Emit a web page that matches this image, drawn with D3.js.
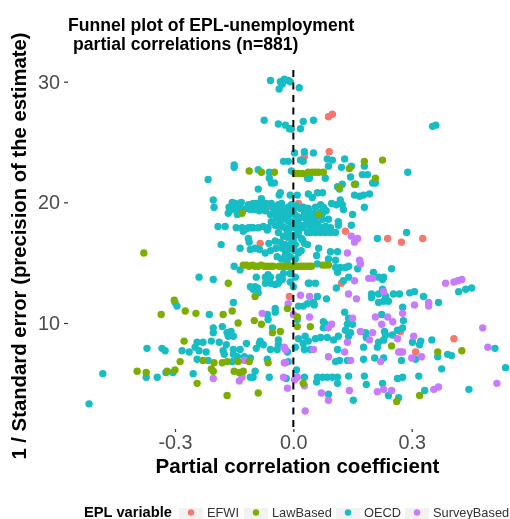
<!DOCTYPE html>
<html>
<head>
<meta charset="utf-8">
<script src="https://cdn.jsdelivr.net/npm/d3@7"></script>
<style>
  html, body { margin: 0; padding: 0; background: #fff; }
  svg { display: block; font-family: "Liberation Sans", Arial, sans-serif; filter: blur(0.45px); }
</style>
</head>
<body>
<svg class="chart"></svg>
<script>
const width = 510,
  height = 519;

const xTicks = [-0.3, 0, 0.3];
const yTicks = [10, 20, 30];
const groups = ["EFWI", "LawBased", "OECD", "SurveyBased"];
const colors = ["#F8766D", "#7CAE00", "#17BDC4", "#C77CFF"];

// [partial correlation, 1 / standard error]
const efwi = [[0.099,27.3],[0.089,27.1],[0.028,23.8],[0.091,24.2],[0.013,19.9],[0.132,17.6],[0.239,17.0],[0.328,17.0],[0.274,16.7],[0.122,13.3],[-0.010,12.2],[0.407,8.7],[0.310,7.6],[0.272,9.3],[0.229,8.6],[0.272,7.6],[-0.066,19.6],[-0.084,16.6],[-0.025,16.5]];

const oecd = [[-0.058,30.1],[-0.033,30.0],[-0.023,30.2],[-0.028,29.8],[-0.036,29.4],[-0.013,30.1],[-0.008,30.0],[0.015,29.5],[-0.074,26.8],[-0.038,26.5],[-0.020,26.4],[-0.010,26.1],[-0.005,26.1],[0.018,26.1],[0.025,26.7],[0.051,26.8],[0.353,26.3],[0.361,26.4],
[0.003,24.1],[0.028,24.2],[-0.025,23.4],[-0.013,23.4],[-0.150,23.1],[-0.150,22.9],[-0.089,22.7],[-0.061,22.5],[-0.005,22.6],[-0.216,21.9],[-0.061,22.0],[-0.056,21.6],[-0.048,21.6],[-0.089,21.1],[-0.033,20.8],[-0.036,20.6],[0.010,20.6],[-0.008,20.6],[-0.081,20.3],[-0.203,20.2],[-0.201,19.6],
[-0.155,20.0],[-0.163,19.6],[-0.165,19.1],[-0.142,19.0],[-0.135,19.6],[-0.114,19.8],[-0.102,19.9],[-0.091,19.6],[-0.079,19.6],[-0.071,19.3],[-0.053,19.6],[-0.038,19.8],[-0.028,19.5],[-0.013,19.6],[0,19.4],[0.018,19.5],[0.036,19.5],[-0.058,19.0],[-0.020,18.8],[-0.109,19.4],[-0.127,19.4],[-0.152,19.4],
[-0.147,19.9],[-0.132,20.0],[-0.119,19.5],[-0.107,19.7],[-0.094,19.9],[-0.081,19.8],[-0.069,19.9],[-0.056,19.9],[-0.043,19.5],[-0.030,19.9],[-0.018,19.4],[-0.005,19.8],[0.008,19.7],[-0.140,19.3],[-0.098,19.4],[-0.086,19.3],[-0.048,19.2],[-0.035,19.1],[-0.025,18.9],[-0.010,19.0],[0.003,19.0],[0.012,18.8],[-0.043,18.7],[-0.030,18.6],[-0.015,18.5],[0,18.4],[0.010,18.3],[-0.040,18.1],[-0.028,18.0],[-0.012,17.8],
[-0.191,18.0],[-0.173,18.0],[-0.145,17.9],[-0.130,17.9],[-0.127,17.6],[-0.120,17.8],[-0.114,17.9],[-0.108,17.9],[-0.102,17.9],[-0.089,17.9],[-0.076,18.0],[-0.064,17.9],[-0.046,18.1],[-0.056,18.4],[-0.033,18.4],[-0.020,17.9],[-0.008,18.4],[0.005,17.9],[0.018,18.1],[-0.038,17.5],[-0.015,17.6],[-0.008,17.3],[-0.114,17.0],[0.013,17.5],[0.036,17.5],[-0.025,17.2],[-0.066,17.7],
[0.051,24.1],[0.025,23.4],[0.018,23.5],[0.086,23.6],[0.099,23.5],[0.089,23.0],[0.122,22.9],[0.130,23.6],[0.147,23.0],[0.145,22.1],[0.180,23.0],[0.175,22.3],[0.188,22.3],[0.290,22.5],[0.036,22.0],[0.041,22.0],[0.081,22.0],[0.201,21.6],[0.208,21.6],[0.112,21.3],[0.124,21.5],[0.117,21.1],[0.158,21.5],[0.155,20.6],[0.168,20.5],[0.178,20.6],[0.193,20.7],[0.180,19.6],[0.150,19.0],[0.147,18.1],[0.061,20.8],[0.074,20.8],[0.038,20.7],[0.048,20.4],[0.119,20.2],[0.109,19.8],[0.124,19.8],[0.127,19.4],[0.097,19.9],[0.114,18.4],[0.114,18.1],[0.094,17.9],[0.069,19.8],[0.056,19.6],[0.076,19.6],[0.025,19.6],[0.038,19.5],[0.036,19.1],[0.051,19.1],[0.074,19.1],[0.025,18.8],[0.043,18.7],[0.051,18.3],[0.074,18.6],[0.089,18.6],[0.023,17.9],[0.043,17.5],[0.056,17.5],[0.069,17.5],[0.081,17.5],[0.094,17.5],[0.107,17.5],[0.076,17.9],[0.213,17.0],[0.287,17.5],
[0.028,19.2],[0.016,18.7],[0.033,18.6],[0.063,18.9],[0.055,18.6],[0.062,18.2],[0.040,18.1],[0.030,18.1],[0.048,17.9],[0.066,17.9],[0.082,18.0],[0.070,19.2],[0.083,19.3],
[-0.183,16.5],[-0.135,16.2],[-0.112,16.7],[-0.109,16.1],[-0.097,16.2],[-0.086,16.1],[-0.071,15.8],[-0.058,16.0],[-0.046,16.8],[-0.033,16.7],[-0.041,15.5],[-0.030,15.3],[-0.020,15.7],[-0.008,16.2],[0.005,16.5],[0.013,15.8],[0,16.9],[-0.015,17.1],[-0.020,16.5],[-0.008,15.5],[0.023,16.9],[0.036,16.5],[-0.150,14.7],[-0.135,14.4],[-0.239,13.8],[-0.203,13.6],[-0.094,13.8],[-0.064,14.0],[-0.071,13.8],[-0.058,13.8],[-0.025,14.1],[-0.036,13.8],[-0.071,13.3],[-0.058,13.3],[-0.046,13.2],[-0.038,13.3],[-0.028,13.6],[-0.008,14.1],[-0.008,13.4],[0.005,13.8],[-0.109,13.0],[-0.097,13.0],[-0.102,12.8],[-0.089,12.5],[-0.091,12.9],[0,13.0],[0.038,13.3],[-0.152,11.7],[-0.300,11.7],[-0.295,11.4],[-0.213,10.7],[-0.046,11.2],[-0.046,10.9],[-0.066,10.7],[-0.064,10.3],[0.013,11.4],[0.025,11.4],[0.010,10.3],
[-0.008,17.9],[0.005,17.3],[0.020,17.0],[0.028,16.6],[-0.005,16.6],[-0.028,16.2],[-0.015,16.0],[0.003,16.0],[0.020,16.0],[-0.044,16.2],[-0.016,15.1],[0.005,15.3],[-0.062,16.6],
[-0.053,9.6],[-0.203,9.6],[-0.203,9.2],[-0.180,9.7],[-0.168,9.2],[-0.158,9.3],[-0.152,8.9],[-0.165,8.9],[-0.371,7.9],[-0.333,7.9],[-0.325,7.7],[-0.282,7.7],[-0.264,7.6],[-0.244,8.4],[-0.229,8.4],[-0.208,8.5],[-0.249,8.0],[-0.239,7.7],[-0.221,7.6],[-0.244,7.0],[-0.216,6.9],[-0.188,8.4],[-0.170,8.2],[-0.178,7.7],[-0.175,7.4],[-0.152,7.8],[-0.135,7.8],[-0.152,7.4],[-0.142,7.2],[-0.124,7.2],[-0.109,7.1],[-0.155,6.8],[-0.119,8.3],[-0.084,8.5],[-0.086,8.3],[-0.094,7.9],[-0.076,8.2],[-0.058,7.8],[-0.041,7.8],[-0.038,8.6],[-0.038,8.2],[-0.015,7.6],[-0.066,7.0],[-0.254,5.8],[-0.323,5.9],[-0.305,5.9],[-0.345,5.5],[-0.373,5.5],[-0.483,5.8],[-0.518,3.3],[-0.109,5.5],[-0.102,5.5],[-0.097,6.0],[-0.061,5.5],[-0.018,5.4],[-0.013,6.8],
[0.064,16.2],[0.094,15.9],[0.112,15.9],[0.059,15.6],[0.089,15.3],[0.107,15.2],[0.061,14.9],[0.107,14.6],[0.119,14.6],[0.112,14.2],[0.132,14.6],[0.140,14.7],[0.163,14.5],[0.203,14.2],[0.249,14.5],[0.140,13.8],[0.127,13.5],[0.109,12.9],[0.216,13.8],[0.229,13.8],[0.226,13.6],[0.041,13.3],[0.056,13.3],[0.226,12.8],[0.198,12.4],[0.198,12.1],[0.216,12.4],[0.234,12.2],[0.216,11.7],[0.229,11.8],[0.241,11.8],[0.254,12.4],[0.269,12.4],[0.295,12.5],[0.307,12.6],[0.330,12.2],[0.368,11.7],[0.277,11.3],[0.419,12.6],[0.437,12.8],[0.452,12.9],[0.084,12.0],[0.061,12.2],[0.051,11.7],[0.036,11.6],[0.053,11.5],[0.130,10.9],[0.140,10.4],[0.224,10.7],[0.279,10.2],[0.277,9.6],[0.264,9.4],[0.076,10.1],[0.076,9.6],[0.081,9.9],[0.137,9.9],[0.150,9.9],[0.132,9.4],[0.145,9.2],[0.114,8.9],[0.140,8.9],[0.102,8.6],[0.086,8.8],[0.069,8.8],[0.056,8.7],[0.030,8.9],[0.013,8.7],[0.038,8.5],[0.025,8.3],[0.005,8.0],[0.028,7.8],[0.043,7.8],[0.112,7.8],[0.183,9.2],[0.185,8.8],[0.178,8.0],[0.213,8.0],[0.216,8.4],[0.231,9.3],[0.234,9.0],[0.251,9.0],[0.229,8.6],[0.302,8.4],[0.323,8.5],[0.320,8.2],[0.351,8.6],[0.366,7.2],[0.391,7.4],[0.401,7.3],[0.511,7.9],[0.538,6.3],[0.310,7.0],[0.274,6.9],[0.229,7.1],[0.206,7.1],[0.178,7.0],[0.107,6.8],[0.117,6.9],[0.137,6.9],[0.376,6.2],[0.318,5.6],[0.277,5.5],[0.264,5.4],[0.180,5.6],[0.185,4.9],[0.140,5.6],[0.226,5.0],[0.241,4.0],[0.267,3.8],[0.152,3.6],[0.089,4.1],[0.333,4.4],[0.445,4.5],[0.112,5.0],[0.112,5.5],[0.099,5.5],[0.086,5.5],[0.074,5.5],[0.061,5.5],[0.059,5.1],[0.008,6.1],[0.028,5.5]];

const surveyBased = [[0.147,17.2],[0.163,17.0],[0.155,16.7],[0.137,15.8],[0.168,15.2],[0.170,14.9],[0.191,13.7],[0.201,13.7],[0.155,13.5],[0.386,13.3],[0.407,13.4],[0.417,13.5],[0.427,13.6],[0.140,12.4],[0.160,12.0],[0.229,12.6],[0.307,11.5],[0.343,11.7],[0.343,11.4],[0.018,12.3],[0.041,12.2],[-0.013,11.6],[0,10.7],[0.041,10.5],[0.150,10.4],[0.208,10.5],[0.239,10.5],[0.277,10.8],[0.252,10.1],[0.224,9.9],[0.097,9.9],[0.089,9.6],[0.170,9.3],[0.201,9.2],[0.193,8.6],[0.137,8.4],[0.264,8.7],[0.305,8.9],[0.480,9.6],[0.493,8.0],[0.267,7.6],[0.277,7.6],[0.051,7.8],[0.130,7.6],[0.089,7.2],[0.145,6.9],[0.221,6.8],[0.300,7.1],[0.325,7.2],[-0.020,7.8],[-0.020,6.7],[0.010,5.5],[0.003,5.3],[0.028,4.8],[-0.015,4.6],[0.071,4.2],[0.142,4.4],[0.089,3.6],[0.213,4.3],[0.229,4.5],[0.249,4.4],[0.356,4.5],[0.368,4.7],[0.516,5.0],[0.030,2.7],[-0.079,10.8],[-0.124,6.9],[-0.023,8.0],[-0.023,6.7],[-0.203,5.4],[-0.130,5.5],[-0.137,5.2],[-0.025,5.5]];

const lawBased = [[-0.112,22.6],[-0.081,22.5],[-0.048,22.5],[-0.130,19.1],[0.005,22.4],[0.013,22.4],[0.023,22.4],[0.038,22.5],[0.048,22.5],[0.056,22.5],[0.064,22.5],[0.076,22.5],[0.180,23.4],[0.226,23.5],[0.142,22.8],[0.208,22.0],[0.155,21.5],[0.117,21.2],[0.064,19.0],[-0.379,15.8],
[-0.127,14.8],[-0.119,14.8],[-0.112,14.7],[-0.104,14.8],[-0.097,14.7],[-0.089,14.7],[-0.081,14.8],[-0.074,14.7],[-0.066,14.7],[-0.058,14.7],[-0.051,14.7],[-0.036,14.7],[-0.028,14.7],[-0.020,14.7],[-0.013,14.7],[-0.005,14.7],[0.003,14.7],[0.010,14.7],[0.018,14.7],[0.025,14.7],[0.033,14.7],[0.041,14.7],[0.046,14.7],[0.074,14.8],[0.081,14.8],[0.089,14.8],
[-0.165,13.3],[-0.097,12.2],[-0.302,11.9],[-0.274,11.0],[-0.247,10.8],[-0.335,10.7],[-0.178,10.7],[-0.155,11.0],[-0.140,10.0],[-0.099,10.2],[-0.081,9.9],[-0.053,9.2],[-0.033,9.3],[-0.277,8.5],[-0.287,6.8],[-0.229,6.9],[-0.201,6.7],[-0.180,6.7],[-0.168,6.8],[-0.140,6.8],[-0.112,6.8],[-0.064,6.7],[-0.396,6.0],[-0.373,5.9],[-0.320,6.0],[-0.300,6.1],[-0.208,6.2],[-0.203,6.0],[-0.150,6.0],[-0.137,5.9],[-0.127,6.0],[-0.244,5.0],[-0.168,4.0],[-0.089,4.2],[-0.015,11.2],[0.010,9.7],[0.043,9.7],[0.249,8.1],[0.366,7.6],[0.427,7.7],[0.025,5.0],[0.320,4.0],[0.262,3.5],[0.010,10.5]];

const x = d3.scaleLinear().domain([-0.3, 0.3]).range([175, 411.7]);
const y = d3.scaleLinear().domain([10, 30]).range([323, 81.7]);
const color = d3.scaleOrdinal().domain(groups).range(colors);

const chart = d3.select(".chart")
  .attr("width", width)
  .attr("height", height);

// points, in the order they stack in the original
const layers = [["EFWI", efwi], ["OECD", oecd], ["SurveyBased", surveyBased], ["LawBased", lawBased]];
layers.forEach(([name, pts]) => {
  chart.append("g").selectAll("circle")
    .data(pts)
    .enter().append("circle")
    .attr("cx", d => x(d[0]))
    .attr("cy", d => y(d[1]))
    .attr("r", 3.7)
    .attr("fill", color(name));
});

// reference line at zero
chart.append("line")
  .attr("x1", x(0)).attr("x2", x(0))
  .attr("y1", 70).attr("y2", 432)
  .attr("stroke", "#000")
  .attr("stroke-width", 2)
  .attr("stroke-dasharray", "7,5.5");

const xAxis = d3.axisBottom(x)
  .tickValues(xTicks)
  .tickFormat(d => d.toFixed(1))
  .tickSize(3)
  .tickPadding(3);
const yAxis = d3.axisLeft(y)
  .tickValues(yTicks)
  .tickSize(4)
  .tickPadding(4);

function styleAxis(g) {
  g.select(".domain").remove();
  g.selectAll(".tick line").attr("stroke", "#333").attr("stroke-width", 1.2);
  g.selectAll(".tick text")
    .attr("fill", "#4d4d4d")
    .style("font-family", '"Liberation Sans", Arial, sans-serif')
    .style("font-size", "19.8px");
}

chart.append("g")
  .attr("transform", "translate(0, 429)")
  .call(xAxis)
  .call(styleAxis);
chart.append("g")
  .attr("transform", "translate(68, 0)")
  .call(yAxis)
  .call(styleAxis);

// titles
chart.append("text")
  .attr("x", 297.5).attr("y", 473)
  .attr("text-anchor", "middle")
  .style("font-weight", "bold").style("font-size", "20.6px")
  .text("Partial correlation coefficient");
chart.append("text")
  .attr("transform", "translate(26, 246) rotate(-90)")
  .attr("text-anchor", "middle")
  .style("font-weight", "bold").style("font-size", "20.3px")
  .text("1 / Standard error (precision of the estimate)");
chart.append("text")
  .attr("x", 68).attr("y", 31)
  .style("font-weight", "bold").style("font-size", "17.6px")
  .text("Funnel plot of EPL-unemployment");
chart.append("text")
  .attr("x", 73).attr("y", 50)
  .style("font-weight", "bold").style("font-size", "17.6px")
  .text("partial correlations (n=881)");

// legend
const keyX = [179, 244, 336, 405];
chart.append("text")
  .attr("x", 84).attr("y", 517)
  .style("font-weight", "bold").style("font-size", "14.7px")
  .text("EPL variable");
const key = chart.append("g").selectAll("g")
  .data(groups)
  .enter().append("g")
  .attr("transform", (d, i) => `translate(${keyX[i]}, 508)`);
key.append("rect")
  .attr("width", 24).attr("height", 11)
  .attr("fill", "#f2f2f2");
key.append("circle")
  .attr("cx", 12).attr("cy", 4.5)
  .attr("r", 3.2)
  .attr("fill", d => color(d));
key.append("text")
  .attr("x", 28).attr("y", 9)
  .attr("fill", "#333")
  .style("font-size", "12.8px")
  .text(d => d);
</script>
</body>
</html>
